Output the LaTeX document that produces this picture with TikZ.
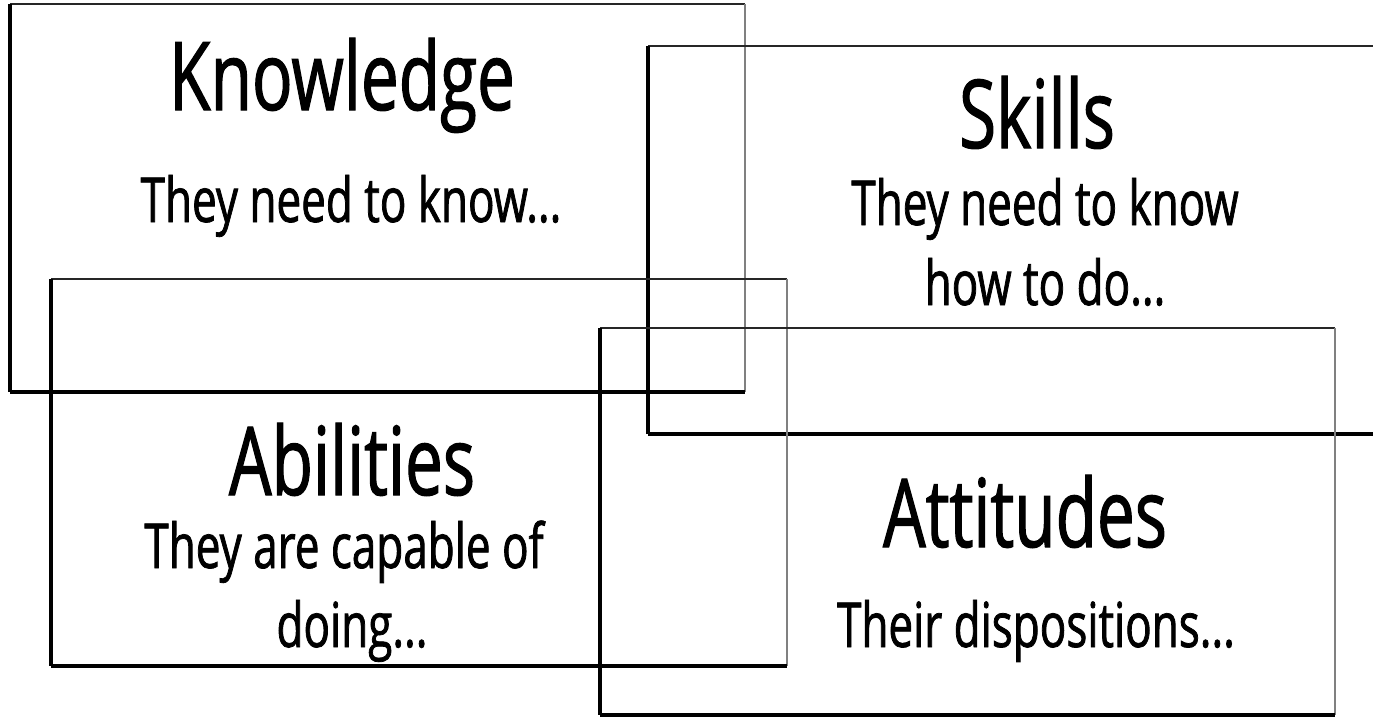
\documentclass[tikz,border=0pt]{standalone}
\usepackage{fontspec}
\setmainfont{Open Sans}[FakeStretch=0.71,FakeBold=1.2]
\begin{document}
\begin{tikzpicture}[x=1pt,y=-1pt,
  titletext/.style={anchor=base,inner sep=0pt,font=\fontsize{95}{95}\selectfont},
  subtext/.style={anchor=base,inner sep=0pt,font=\fontsize{62}{62}\selectfont},
  edgeleft/.style={line width=3.5pt,black},
  edgebottom/.style={line width=4pt,black},
  edgetop/.style={line width=2.5pt,black!85},
  edgeright/.style={line width=2pt,black!50}]
\useasboundingbox (0,0) rectangle (1373,718);
\clip (0,0) rectangle (1373,718);

% corner points of the four frames
\coordinate (k1) at (10,4);    \coordinate (k2) at (745,392);
\coordinate (s1) at (648,46);  \coordinate (s2) at (1390,434);
\coordinate (a1) at (51,279);  \coordinate (a2) at (787,666);
\coordinate (t1) at (600,328); \coordinate (t2) at (1335,715);

% each frame: heavy left and bottom sides, lighter top and right sides
\foreach \p in {k,s,a,t}{
  \draw[edgetop]    (\p1) -- (\p1 -| \p2);
  \draw[edgeright]  (\p1 -| \p2) -- (\p2);
  \draw[edgeleft]   (\p1) -- (\p1 |- \p2);
  \draw[edgebottom] (\p1 |- \p2) -- (\p2);
}

% labels
\node[titletext] (ktitle) at (342,110) {Knowledge};
\node[subtext]   (ksub)   at (351,222) {They need to know...};

\node[titletext] (stitle) at (1037,148) {Skills};
\node[subtext]   (ssub1)  at (1045,225) {They need to know};
\node[subtext]   (ssub2)  at (1045,305) {how to do...};

\node[titletext] (atitle) at (352,495) {Abilities};
\node[subtext]   (asub1)  at (344,568) {They are capable of};
\node[subtext]   (asub2)  at (352,647) {doing...};

\node[titletext] (ttitle) at (1025,547) {Attitudes};
\node[subtext]   (tsub)   at (1036,647) {Their dispositions...};
\end{tikzpicture}
\end{document}
